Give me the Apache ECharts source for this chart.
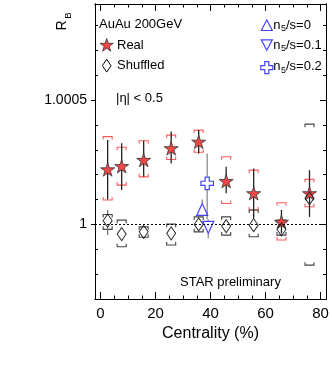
<!DOCTYPE html>
<html>
<head>
<meta charset="utf-8">
<script src="https://cdn.jsdelivr.net/npm/echarts@6/dist/echarts.min.js"></script>
<style>html,body{margin:0;padding:0;background:#fff}#c{width:332px;height:384px}</style>
</head>
<body>
<div id="c"></div>
<script>
// ---- data ----
const centrality   = [2.6, 7.7, 15.7, 25.7, 35.7, 45.7, 55.7, 65.8, 76.0];
const realRB       = [1.000221, 1.000234, 1.000259, 1.000306, 1.000332, 1.000174, 1.000125, 1.000010, 1.000125];
const realStatLow  = [1.000100, 1.000138, 1.000191, 1.000245, 1.000285, 1.000125, 1.000025, 0.999964, 1.000030];
const realStatHigh = [1.000339, 1.000326, 1.000336, 1.000373, 1.000379, 1.000232, 1.000225, 1.000058, 1.000218];
const realSysLow   = [1.000098, 1.000158, 1.000191, 1.000261, 1.000290, 1.000084, 1.000058, 0.999937, 1.000071];
const realSysHigh  = [1.000353, 1.000310, 1.000336, 1.000359, 1.000379, 1.000272, 1.000218, 1.000087, 1.000181];

const shufRB       = [1.000015, 0.999961, 0.999970, 0.999964, 1.000000, 0.999993, 0.999997, 0.999980, 1.000105];
const shufStatLow  = [0.999957, 0.999941, 0.999950, 0.999944, 0.999980, 0.999973, 0.999977, 0.999960, 1.000085];
const shufStatHigh = [1.000058, 0.999981, 0.999990, 0.999984, 1.000020, 1.000013, 1.000017, 1.000000, 1.000125];
const shufSysLow   = [0.999980, 0.999910, 0.999948, 0.999917, 0.999970, 0.999957, 0.999950, 0.999957, 0.999836];
const shufSysHigh  = [1.000040, 1.000017, 0.999990, 1.000001, 1.000030, 1.000030, 1.000058, 1.000017, 1.000403];

const n5s0Cent  = [37.0];  const n5s0RB  = [1.000060]; const n5s0Low  = [1.000040]; const n5s0High  = [1.000100];
const n5s01Cent = [39.2];  const n5s01RB = [0.999988]; const n5s01Low = [0.999944]; const n5s01High = [1.000020];
const n5s02Cent = [38.8];  const n5s02RB = [1.000165]; const n5s02Low = [1.000020]; const n5s02High = [1.000285];

const xMajorTicks = [0, 20, 40, 60, 80];
const xMinorTicks = [5, 10, 15, 25, 30, 35, 45, 50, 55, 65, 70, 75];
const yMajorTicks = [1, 1.0005];
const yMinorTicks = [0.9998, 0.9999, 1.0001, 1.0002, 1.0003, 1.0004, 1.0006, 1.0007, 1.0008];

// ---- styling ----
const FONT = 'Liberation Sans';
const RED = '#f04848';
const RED_SYS = '#ff5a5a';
const BLUE = '#4444ff';
const STAR = 'path://M0,-10L2.245,-3.09L9.51,-3.09L3.633,1.18L5.88,8.09L0,3.82L-5.88,8.09L-3.633,1.18L-9.51,-3.09L-2.245,-3.09Z';
const CROSS = 'path://M-1,-3L1,-3L1,-1L3,-1L3,1L1,1L1,3L-1,3L-1,1L-3,1L-3,-1L-1,-1Z';
const STAR_PTS = [[0,-10],[2.245,-3.09],[9.51,-3.09],[3.633,1.18],[5.88,8.09],[0,3.82],[-5.88,8.09],[-3.633,1.18],[-9.51,-3.09],[-2.245,-3.09]];
const CROSS_PTS = [[-1,-3],[1,-3],[1,-1],[3,-1],[3,1],[1,1],[1,3],[-1,3],[-1,1],[-3,1],[-3,-1],[-1,-1]];
const X_MIN = -2, X_MAX = 82, Y_MIN = 0.9997, Y_MAX = 1.000886;

function pts(xs, ys) { return xs.map((x, i) => [x, ys[i]]); }
function triples(xs, lo, hi, c) { return xs.map((x, i) => [x, lo[i], hi[i], c[i]]); }
function place(shape, cx, cy, sx, sy) { return shape.map(p => [cx + p[0] * sx, cy + p[1] * sy]); }

function errRender(color, width, gap) {
  return function (params, api) {
    const x = api.value(0);
    const a = api.coord([x, api.value(1)]);
    const b = api.coord([x, api.value(2)]);
    const c = api.coord([x, api.value(3)]);
    const kids = [];
    if (a[1] > c[1] + gap) kids.push({type: 'line', shape: {x1: a[0], y1: a[1], x2: a[0], y2: c[1] + gap}, style: {stroke: color, lineWidth: width}});
    if (b[1] < c[1] - gap) kids.push({type: 'line', shape: {x1: b[0], y1: b[1], x2: b[0], y2: c[1] - gap}, style: {stroke: color, lineWidth: width}});
    return {type: 'group', children: kids};
  };
}
function bracketRender(color, halfW, hook) {
  return function (params, api) {
    const x = api.value(0);
    const a = api.coord([x, api.value(1)]);
    const b = api.coord([x, api.value(2)]);
    const st = {stroke: color, fill: null, lineWidth: 1.1};
    return {type: 'group', children: [
      {type: 'polyline', shape: {points: [[a[0] - halfW, a[1] - hook], [a[0] - halfW, a[1]], [a[0] + halfW, a[1]], [a[0] + halfW, a[1] - hook]]}, style: st},
      {type: 'polyline', shape: {points: [[b[0] - halfW, b[1] + hook], [b[0] - halfW, b[1]], [b[0] + halfW, b[1]], [b[0] + halfW, b[1] + hook]]}, style: st}
    ]};
  };
}

function xAx(pos, ticks, len, labels, extra) {
  return Object.assign({
    type: 'value', position: pos, min: X_MIN, max: X_MAX,
    axisLine: {show: true, onZero: false, lineStyle: {color: '#000', width: 1}},
    axisTick: {show: true, inside: true, length: len, customValues: ticks, lineStyle: {color: '#000', width: 1}},
    axisLabel: labels ? {show: true, customValues: labels, fontSize: 15, fontFamily: FONT, color: '#000', margin: 7} : {show: false},
    splitLine: {show: false}
  }, extra || {});
}
function yAx(pos, ticks, len, inside, labels) {
  return {
    type: 'value', position: pos, min: Y_MIN, max: Y_MAX,
    axisLine: {show: true, onZero: false, lineStyle: {color: '#000', width: 1}},
    axisTick: {show: true, inside: inside, length: len, customValues: ticks, lineStyle: {color: '#000', width: 1}},
    axisLabel: labels ? {show: true, customValues: labels, fontSize: 14, fontFamily: FONT, color: '#000', margin: 8,
      formatter: v => (Math.abs(v - 1) < 1e-9 ? '1' : '1.0005')} : {show: false},
    splitLine: {show: false}
  };
}

function txt(text, x, y, size, align, extra) {
  return Object.assign({type: 'text', x: x, y: y, silent: true, style: {
    text: text, fontSize: size, fontFamily: FONT, fill: '#000',
    align: align || 'left', textAlign: align || 'left', verticalAlign: 'middle', textVerticalAlign: 'middle'}}, extra || {});
}

const graphics = [
  // y-axis title R_B
  txt('R', 62, 25.5, 14, 'center', {rotation: Math.PI / 2}),
  txt('B', 68.5, 15.5, 9.5, 'center', {rotation: Math.PI / 2}),
  // legend left
  txt('AuAu 200GeV', 99, 24.5, 13),
  {type: 'polygon', silent: true, shape: {points: place(STAR_PTS, 106.7, 45.5, 0.7, 0.7)}, style: {fill: RED, stroke: '#333', lineWidth: 0.8}},
  txt('Real', 117, 45, 13),
  {type: 'polygon', silent: true, shape: {points: [[106.7, 59.3], [111, 65.7], [106.7, 72.1], [102.4, 65.7]]}, style: {fill: 'none', stroke: '#000', lineWidth: 1}},
  txt('Shuffled', 117, 65.7, 13),
  txt('|η| < 0.5', 116, 98, 13),
  // legend right
  {type: 'polygon', silent: true, shape: {points: [[266.8, 20], [272.3, 30.5], [261.3, 30.5]]}, style: {fill: 'none', stroke: BLUE, lineWidth: 1.2}},
  txt('n', 273.3, 25, 13), txt('5', 281, 28.5, 9), txt('/s=0', 286, 25, 13),
  {type: 'polygon', silent: true, shape: {points: [[261.3, 39.8], [272.3, 39.8], [266.8, 50.3]]}, style: {fill: 'none', stroke: BLUE, lineWidth: 1.2}},
  txt('n', 273.3, 45, 13), txt('5', 281, 48.5, 9), txt('/s=0.1', 286, 45, 13),
  {type: 'polygon', silent: true, shape: {points: place(CROSS_PTS, 266.8, 67.7, 2, 2)}, style: {fill: 'none', stroke: BLUE, lineWidth: 1.2}},
  txt('n', 273.3, 66.7, 13), txt('5', 281, 70.2, 9), txt('/s=0.2', 286, 66.7, 13),
  // label
  txt('STAR preliminary', 180, 282.5, 13)
];

const chart = echarts.init(document.getElementById('c'), null, {renderer: 'canvas'});
chart.setOption({
  animation: false,
  backgroundColor: '#fff',
  textStyle: {fontFamily: FONT},
  grid: {left: 95, right: 6, top: 4, bottom: 85, containLabel: false},
  xAxis: [
    xAx('bottom', xMajorTicks, 7, xMajorTicks, {name: 'Centrality (%)', nameLocation: 'middle', nameGap: 26,
      nameTextStyle: {fontSize: 16, fontFamily: FONT, color: '#000'}}),
    xAx('bottom', xMinorTicks, 3.5, null),
    xAx('top', xMajorTicks, 7, null),
    xAx('top', xMinorTicks, 3.5, null)
  ],
  yAxis: [
    yAx('left', yMajorTicks, 4, false, yMajorTicks),
    yAx('left', yMinorTicks, 3, true, null),
    yAx('right', yMajorTicks, 6, true, null),
    yAx('right', yMinorTicks, 3, true, null)
  ],
  graphic: graphics,
  series: [
    {type: 'custom', name: 'realSys', coordinateSystem: 'cartesian2d', xAxisIndex: 0, yAxisIndex: 0,
      renderItem: bracketRender(RED_SYS, 4.5, 3), data: triples(centrality, realSysLow, realSysHigh, realRB),
      markLine: {silent: true, symbol: 'none', label: {show: false},
        lineStyle: {type: [2, 2], color: '#000', width: 1}, data: [{yAxis: 1}]}},
    {type: 'custom', name: 'shufSys', coordinateSystem: 'cartesian2d', xAxisIndex: 0, yAxisIndex: 0,
      renderItem: bracketRender('#444', 4.5, 3), data: triples(centrality, shufSysLow, shufSysHigh, shufRB)},
    {type: 'custom', name: 'realStat', coordinateSystem: 'cartesian2d', xAxisIndex: 0, yAxisIndex: 0,
      renderItem: errRender('#222', 1.3, 0), data: triples(centrality, realStatLow, realStatHigh, realRB)},
    {type: 'scatter', name: 'Real', xAxisIndex: 0, yAxisIndex: 0, symbol: STAR, symbolSize: [14, 13.5],
      itemStyle: {color: RED, borderColor: '#333', borderWidth: 0.8, opacity: 1}, data: pts(centrality, realRB)},
    {type: 'custom', name: 'shufStat', coordinateSystem: 'cartesian2d', xAxisIndex: 0, yAxisIndex: 0,
      renderItem: errRender('#777', 1.3, 6.5), data: triples(centrality, shufStatLow, shufStatHigh, shufRB)},
    {type: 'scatter', name: 'Shuffled', xAxisIndex: 0, yAxisIndex: 0, symbol: 'diamond', symbolSize: [9, 13],
      itemStyle: {color: 'rgba(0,0,0,0)', borderColor: '#222', borderWidth: 1, opacity: 1}, data: pts(centrality, shufRB)},
    {type: 'custom', name: 'blueStat', coordinateSystem: 'cartesian2d', xAxisIndex: 0, yAxisIndex: 0,
      renderItem: errRender('#999', 1.5, 6.5),
      data: triples(n5s0Cent, n5s0Low, n5s0High, n5s0RB).concat(triples(n5s01Cent, n5s01Low, n5s01High, n5s01RB), triples(n5s02Cent, n5s02Low, n5s02High, n5s02RB))},
    {type: 'scatter', name: 'n5/s=0', xAxisIndex: 0, yAxisIndex: 0, symbol: 'triangle', symbolSize: [11, 12],
      itemStyle: {color: 'rgba(0,0,0,0)', borderColor: BLUE, borderWidth: 1.2, opacity: 1}, data: pts(n5s0Cent, n5s0RB)},
    {type: 'scatter', name: 'n5/s=0.1', xAxisIndex: 0, yAxisIndex: 0, symbol: 'triangle', symbolRotate: 180, symbolSize: [11, 12],
      itemStyle: {color: 'rgba(0,0,0,0)', borderColor: BLUE, borderWidth: 1.2, opacity: 1}, data: pts(n5s01Cent, n5s01RB)},
    {type: 'scatter', name: 'n5/s=0.2', xAxisIndex: 0, yAxisIndex: 0, symbol: CROSS, symbolSize: 12.5,
      itemStyle: {color: '#fff', borderColor: BLUE, borderWidth: 1.2, opacity: 1}, data: pts(n5s02Cent, n5s02RB)}
  ]
});
</script>
</body>
</html>
